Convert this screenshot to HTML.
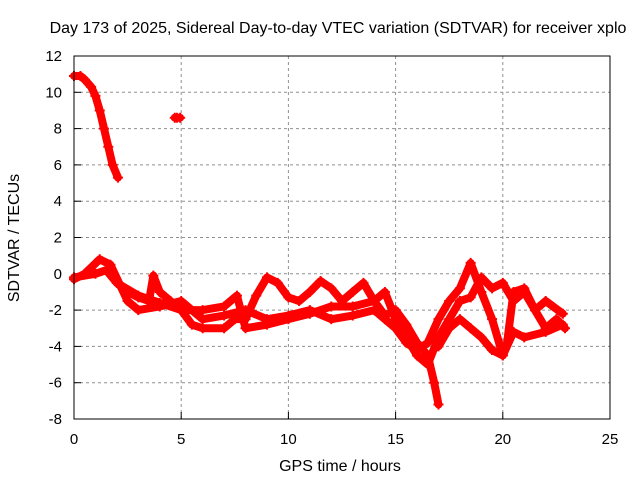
<!DOCTYPE html>
<html><head><meta charset="utf-8"><style>
body{margin:0;background:#fff}
svg text{font-family:"Liberation Sans",sans-serif;font-size:15px;fill:#000}
svg text.big{font-size:16px}
</style></head><body>
<svg id="c" width="640" height="480">
<text class="big" x="338" y="33" text-anchor="middle">Day 173 of 2025, Sidereal Day-to-day VTEC variation (SDTVAR) for receiver xplo</text>
<text class="big" x="340" y="471" text-anchor="middle">GPS time / hours</text>
<text class="big" transform="translate(19,238) rotate(-90)" text-anchor="middle">SDTVAR / TECUs</text>
<g id="grid"></g><g id="ticks"></g><g id="marks"></g>
<rect x="74" y="56" width="536" height="363" fill="none" stroke="#000" stroke-width="1"/>
</svg>
<script>
const xTicks=[0,5,10,15,20,25];
const yTicks=[-8,-6,-4,-2,0,2,4,6,8,10,12];
const trackA_t=[0,0.3,0.5,0.8,1.0,1.2,1.4,1.6,1.8,2.05];
const trackA_v=[10.9,10.9,10.7,10.3,9.8,9.0,8.0,7.0,6.0,5.3];
const trackF_t=[4.7,4.8,4.95];
const trackF_v=[8.6,8.6,8.6];
const trackB_t=[0,0.5,1.2,1.7,2.5,3,4,5,6,7,8,9,10,11,12,13,14,14.5,15,15.5,16,16.5,17,17.5,18,18.5,19,19.5,20,20.5,21,22,22.8];
const trackB_v=[-0.3,0,0.8,0.5,-1.5,-2.0,-1.8,-1.5,-2.5,-2.3,-2.0,-2.5,-2.3,-2.0,-2.5,-2.3,-2.0,-2.5,-3.0,-3.8,-4.2,-3.8,-2.5,-1.5,-0.8,0.6,-1.0,-2.5,-4.5,-3.2,-3.5,-3.2,-2.8];
const trackC_t=[0,1,1.5,2,2.5,3,3.5,3.7,4,4.5,5,5.5,6,7,7.5,8,8.5,9,9.5,10,10.5,11,11.5,12,12.5,13,13.5,14,14.5,15,15.5,16,16.5,16.8,17];
const trackC_v=[-0.2,0,0.2,-0.5,-1.0,-1.3,-1.5,-0.1,-1.0,-1.5,-2.0,-2.8,-3.0,-3.0,-2.5,-2.5,-1.2,-0.2,-0.5,-1.3,-1.5,-1.0,-0.4,-0.8,-1.5,-1.0,-0.5,-1.5,-2.3,-2.0,-2.8,-3.8,-4.5,-6.0,-7.2];
const trackD_t=[2,3,4,5,6,7,7.6,8,9,10,11,12,13,14,14.5,15,15.5,16,16.5,17,17.5,18,18.5,19,19.5,20,20.5,21,21.5,22,22.8];
const trackD_v=[-0.5,-1.2,-1.6,-2.0,-2.0,-1.8,-1.2,-3.0,-2.8,-2.5,-2.2,-1.8,-1.8,-1.5,-1.0,-2.5,-3.5,-4.5,-5.0,-3.5,-2.5,-1.5,-1.3,-0.2,-0.8,-0.5,-1.5,-1.0,-2.0,-1.5,-2.2];
const trackE_t=[17,17.5,18,18.5,19,19.5,20,20.2,20.5,21,21.5,22,22.5,22.9];
const trackE_v=[-4.0,-3.0,-2.5,-3.0,-3.5,-4.2,-4.5,-3.8,-1.0,-0.8,-2.0,-3.0,-2.5,-3.0];
const X=t=>74+t*(536/25), Y=v=>419-(v+8)*(363/20);
const NS='http://www.w3.org/2000/svg';
const g=document.getElementById('grid'),tk=document.getElementById('ticks'),mk=document.getElementById('marks');
function el(n,a,p){const e=document.createElementNS(NS,n);for(const k in a)e.setAttribute(k,a[k]);p.appendChild(e);return e;}
xTicks.forEach(t=>{
 if(t>0&&t<25){const l=el('line',{x1:X(t),x2:X(t),y1:56,y2:419,stroke:'#909090','stroke-dasharray':'3,3'},g);
 
 }
 const tx=el('text',{x:X(t),y:444,'text-anchor':'middle'},tk);tx.textContent=t;
 
 
 el('line',{x1:X(t),x2:X(t),y1:419,y2:412,stroke:'#000'},tk);
});
yTicks.forEach(v=>{
 if(v>-8&&v<12){const l=el('line',{x1:74,x2:610,y1:Y(v),y2:Y(v),stroke:'#909090','stroke-dasharray':'3,3'},g);
 
 }
 const tx=el('text',{x:62,y:Y(v)+5,'text-anchor':'end'},tk);tx.textContent=v;
 
 
 el('line',{x1:74,x2:81,y1:Y(v),y2:Y(v),stroke:'#000'},tk);
});
[[trackA_t,trackA_v,'track-a'],[trackF_t,trackF_v,'track-f'],[trackB_t,trackB_v,'track-b'],[trackC_t,trackC_v,'track-c'],[trackD_t,trackD_v,'track-d'],[trackE_t,trackE_v,'track-e']].forEach(([ts,vs,name])=>{
 const pts=ts.map((t,i)=>X(t)+','+Y(vs[i])).join(' ');
 const pl=el('polyline',{points:pts,fill:'none',stroke:'#ff0000','stroke-width':8,'stroke-linejoin':'round','stroke-linecap':'round'},mk);
 
 
 ts.forEach((t,i)=>{const x=X(t),y=Y(vs[i]);
  const p=el('path',{d:`M${x-5},${y}H${x+5}M${x},${y-5}V${y+5}`,stroke:'#ff0000','stroke-width':2},mk);
  
  });
});
</script>
</body></html>
